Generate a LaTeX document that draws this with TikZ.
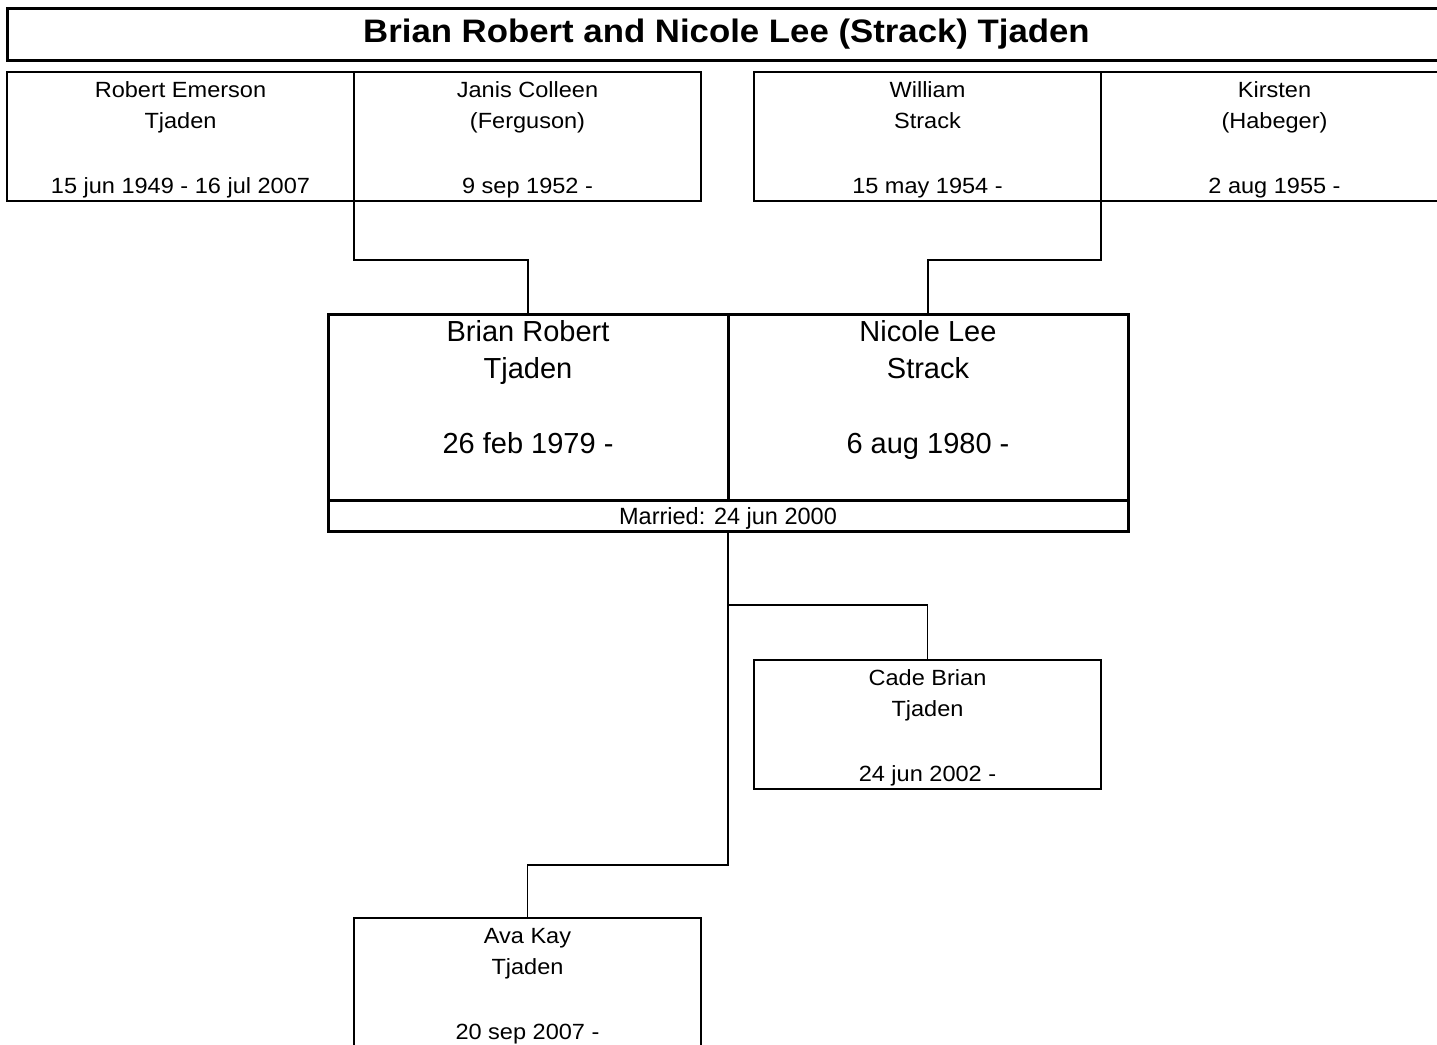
\documentclass[tikz,border=0pt]{standalone}
\usepackage{fontspec}
\setmainfont{Liberation Sans}
\newfontfamily\widesans{Liberation Sans}[FakeStretch=1.07]
\newcommand\personbox[6]{%
  \node[pbox] (#1) at (#2,#3) {};
  \node[ptext] (#1-a) at ([yshift=-25.5pt]#1.north) {#4};
  \node[ptext] (#1-b) at ([yshift=-56pt]#1.north) {#5};
  \node[ptext] (#1-c) at ([yshift=-121pt]#1.north) {#6};
}
\newcommand\coupletext[4]{%
  \node[ctext] (#1-a) at ([yshift=-27pt]#1.north) {#2};
  \node[ctext] (#1-b) at ([yshift=-64pt]#1.north) {#3};
  \node[ctext] (#1-c) at ([yshift=-139pt]#1.north) {#4};
}
\begin{document}
\begin{tikzpicture}[x=1pt,y=-1pt,
  pbox/.style={draw, line width=1.8pt, minimum width=347pt, minimum height=129pt, anchor=north west, inner sep=0pt, outer sep=0pt},
  ptext/.style={anchor=base, inner sep=0pt, font=\widesans\fontsize{22}{26}\selectfont},
  ctext/.style={anchor=base, inner sep=0pt, font=\fontsize{29}{34}\selectfont},
  cbox/.style={draw, line width=3pt, anchor=north west, inner sep=0pt, outer sep=0pt},
  conn/.style={line width=1.8pt}]
\useasboundingbox (0,0) rectangle (1437,1044);
\fill[white] (0,0) rectangle (1437,1044);
% title
\node[cbox, minimum width=1438pt, minimum height=52pt] (title) at (7,8) {};
\node[anchor=base, inner sep=0pt, font=\widesans\fontsize{32.5}{38}\selectfont\bfseries] (title-t) at (726.5,42.5) {Brian Robert and Nicole Lee (Strack) Tjaden};
% parents
\personbox{rob}{7}{72}{Robert Emerson}{Tjaden}{15 jun 1949 - 16 jul 2007}
\personbox{jan}{354}{72}{Janis Colleen}{(Ferguson)}{9 sep 1952 -}
\personbox{wil}{754}{72}{William}{Strack}{15 may 1954 -}
\personbox{kir}{1101}{72}{Kirsten}{(Habeger)}{2 aug 1955 -}
% couple
\node[cbox, minimum width=400pt, minimum height=186pt] (brian) at (328,314) {};
\node[cbox, minimum width=400pt, minimum height=186pt] (nicole) at (728,314) {};
\node[cbox, minimum width=800pt, minimum height=31pt] (married) at (328,500) {};
\node[anchor=base, inner sep=0pt, font=\fontsize{23.5}{28}\selectfont] (married-t) at ([yshift=-24pt]married.north) {Married: 24 jun 2000};
\coupletext{brian}{Brian Robert}{Tjaden}{26 feb 1979 -}
\coupletext{nicole}{Nicole Lee}{Strack}{6 aug 1980 -}
% children
\personbox{cade}{754}{660}{Cade Brian}{Tjaden}{24 jun 2002 -}
\personbox{ava}{354}{918}{Ava Kay}{Tjaden}{20 sep 2007 -}
% connectors
\coordinate (jl) at (354,260);
\coordinate (jr) at (1101,260);
\coordinate (j1) at (728,605);
\coordinate (j2) at (728,865);
\draw[conn] (rob.south east) -- (jl) -| (brian.north);
\draw[conn] (kir.south west) -- (jr) -| (nicole.north);
\draw[conn] (married.south) -- (j1) -| (cade.north);
\draw[conn] (j1) -- (j2) -| (ava.north);
\end{tikzpicture}
\end{document}
